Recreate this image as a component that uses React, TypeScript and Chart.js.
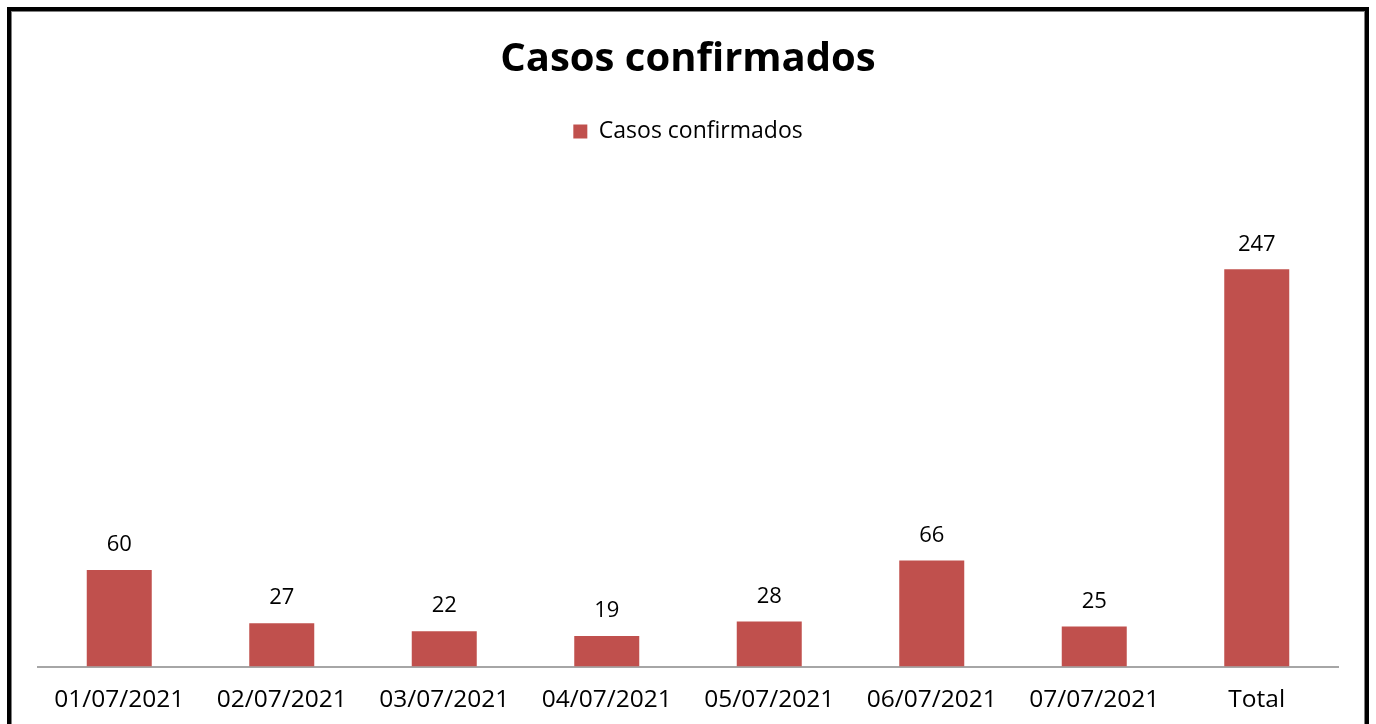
import React, { useEffect, useRef } from "react";
import { Chart, registerables } from "chart.js";

Chart.register(...registerables);

const categories = [
  "01/07/2021",
  "02/07/2021",
  "03/07/2021",
  "04/07/2021",
  "05/07/2021",
  "06/07/2021",
  "07/07/2021",
  "Total",
];
const casos = [60, 27, 22, 19, 28, 66, 25, 247];
const seriesName = "Casos confirmados";
const titleText = "Casos confirmados";
const yMax = 300;

const FONT = "'Open Sans', 'Noto Sans', sans-serif";

const frame = {
  id: "frame",
  afterDraw(chart: any) {
    const ctx = chart.ctx;
    ctx.save();
    ctx.strokeStyle = "#000";
    ctx.lineWidth = 4;
    ctx.strokeRect(9, 9, 1358, 740);
    ctx.strokeStyle = "#808080";
    ctx.lineWidth = 1;
    ctx.strokeRect(11.5, 11.5, 1353, 740);
    ctx.restore();
  },
};

const dataLabels = {
  id: "dataLabels",
  afterDatasetsDraw(chart: any) {
    const ctx = chart.ctx;
    ctx.save();
    ctx.font = `22px ${FONT}`;
    ctx.fillStyle = "#000";
    ctx.textAlign = "center";
    ctx.textBaseline = "middle";
    chart.data.datasets.forEach((ds: any, i: number) => {
      const meta = chart.getDatasetMeta(i);
      meta.data.forEach((el: any, j: number) => {
        ctx.fillText(String(ds.data[j]), el.x, el.y - 25);
      });
    });
    ctx.restore();
  },
};

const legendMargin = {
  id: "legendMargin",
  beforeInit(chart: any) {
    const legend = chart.legend;
    if (!legend) return;
    const orig = legend.fit;
    legend.fit = function () {
      orig.call(this);
      this.height += 31;
    };
  },
};

export default function App() {
  const ref = useRef<HTMLCanvasElement | null>(null);
  useEffect(() => {
    if (!ref.current) return;
    const chart = new Chart(ref.current, {
      type: "bar",
      data: {
        labels: categories,
        datasets: [
          {
            label: seriesName,
            data: casos,
            backgroundColor: "#C0504D",
            borderWidth: 0,
            categoryPercentage: 1,
            barPercentage: 0.4,
          },
        ],
      },
      options: {
        responsive: false,
        animation: false,
        layout: { padding: { left: 38, right: 38, top: 0, bottom: -10 } },
        plugins: {
          title: {
            display: true,
            text: titleText,
            color: "#000",
            font: { family: FONT, size: 40, weight: "bold" },
            padding: { top: 36, bottom: 26 },
          },
          legend: {
            display: true,
            position: "top",
            labels: {
              color: "#000",
              font: { family: FONT, size: 23 },
              boxWidth: 14,
              boxHeight: 14,
              padding: 10,
            },
          },
          tooltip: { enabled: false },
        },
        scales: {
          x: {
            grid: { display: false, drawTicks: false },
            border: { display: true, color: "#A6A6A6", width: 2 },
            ticks: {
              color: "#000",
              font: { family: FONT, size: 24.5 },
              padding: 19,
              maxRotation: 0,
              autoSkip: false,
            },
          },
          y: {
            display: false,
            min: 0,
            max: yMax,
          },
        },
      },
      plugins: [legendMargin, dataLabels, frame],
    });
    return () => chart.destroy();
  }, []);
  return (
    <div style={{ position: "fixed", left: 0, top: 0, width: 1376, height: 724, background: "#fff" }}>
      <canvas ref={ref} width={1376} height={724} style={{ display: "block" }} />
    </div>
  );
}
